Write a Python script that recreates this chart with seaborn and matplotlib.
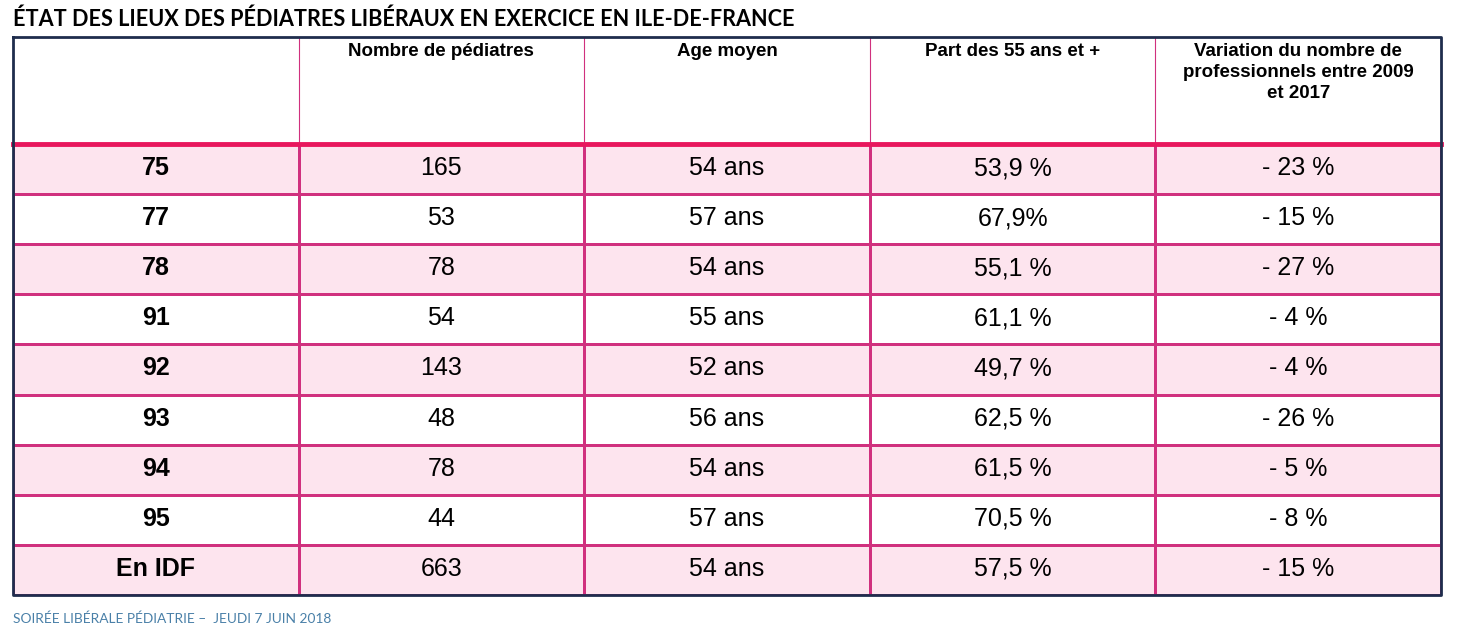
import matplotlib
matplotlib.use("Agg")
import matplotlib.pyplot as plt
from matplotlib.colors import ListedColormap
import seaborn as sns
import numpy as np

departements = ["75", "77", "78", "91", "92", "93", "94", "95", "En IDF"]
nb_pediatres = ["165", "53", "78", "54", "143", "48", "78", "44", "663"]
age_moyen = ["54 ans", "57 ans", "54 ans", "55 ans", "52 ans", "56 ans", "54 ans", "57 ans", "54 ans"]
part_55 = ["53,9 %", "67,9%", "55,1 %", "61,1 %", "49,7 %", "62,5 %", "61,5 %", "70,5 %", "57,5 %"]
variation = ["- 23 %", "- 15 %", "- 27 %", "- 4 %", "- 4 %", "- 26 %", "- 5 %", "- 8 %", "- 15 %"]
headers = ["", "Nombre de pédiatres", "Age moyen", "Part des 55 ans et +",
           "Variation du nombre de\nprofessionnels entre 2009\net 2017"]

PINK = "#fde4ee"
LINE = "#d0307e"
BORDER = "#1f2d4d"
FONT = "Liberation Sans"

W, H = 1462, 633
fig = plt.figure(figsize=(W / 100, H / 100), dpi=100)

left, right, top, head_bot, bottom = 13, 1441, 37, 144, 595

def fig_rect(x0, y0, x1, y1):
    return [x0 / W, 1 - y1 / H, (x1 - x0) / W, (y1 - y0) / H]

# body: alternating pink / white rows via heatmap
ax = fig.add_axes(fig_rect(left, head_bot, right, bottom))
cols = [departements, nb_pediatres, age_moyen, part_55, variation]
n_rows, n_cols = len(departements), len(cols)
parity = np.array([[(i + 1) % 2] * n_cols for i in range(n_rows)])
sns.heatmap(parity, cmap=ListedColormap(["white", PINK]), cbar=False, ax=ax,
            linewidths=0.8, linecolor=LINE, vmin=0, vmax=1)
for i in range(n_rows):
    for j, col in enumerate(cols):
        ax.text(j + 0.5, i + 0.48, col[i], ha="center", va="center",
                fontsize=18 if j else 18, fontweight="bold" if j == 0 else "normal",
                family=FONT, color="black")
ax.set_xticks([]); ax.set_yticks([])
for s in ax.spines.values():
    s.set_visible(False)

# header
hax = fig.add_axes(fig_rect(left, top, right, head_bot))
hax.set_xlim(0, n_cols); hax.set_ylim(1, 0)
hax.axis("off")
for j in range(1, n_cols):
    hax.axvline(j, color=LINE, lw=0.8)
for j, h in enumerate(headers):
    hax.text(j + 0.5, 0.06, h, ha="center", va="top", fontsize=13.5,
             fontweight="bold", family=FONT, linespacing=1.28)

# thick pink rule and navy frame in figure pixel space
over = fig.add_axes([0, 0, 1, 1], facecolor="none")
over.set_xlim(0, W); over.set_ylim(H, 0); over.axis("off")
over.plot([left, right], [head_bot, head_bot], color="#e8175d", lw=3.5)
over.plot([left, right, right, left, left], [top, top, bottom, bottom, top],
          color=BORDER, lw=2)

fig.text(13 / W, 1 - 19 / H, "ÉTAT DES LIEUX DES PÉDIATRES LIBÉRAUX EN EXERCICE EN ILE-DE-FRANCE",
         fontsize=15.6, fontweight="bold", family="Lato", va="center")
fig.text(13 / W, 1 - 619 / H, "SOIRÉE LIBÉRALE PÉDIATRIE –  JEUDI 7 JUIN 2018",
         fontsize=9.9, family="Lato", color="#4a80a8", va="center")

fig.savefig("out.png", dpi=100)
